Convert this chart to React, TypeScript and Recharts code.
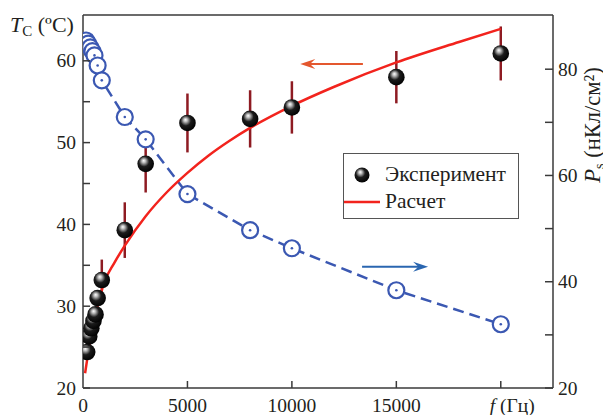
import React from 'react';
import { ComposedChart, Line, Scatter, XAxis, YAxis, ErrorBar, ReferenceLine, Legend, Label } from 'recharts';

const SERIF = '"Liberation Serif", "DejaVu Serif", serif';
const INK = '#231f20';
const FRAME = '#3a3a3a';
const RED = '#f2231d';
const BAR = '#8e1b22';
const BLUE = '#3b58b2';
const ARROW_RED = '#e4572e';
const ARROW_BLUE = '#2a66b0';

// experiment: Tc vs f (left axis)
const expFreq = [200, 300, 400, 500, 600, 700, 900, 2000, 3000, 5000, 8000, 10000, 15000, 20000];
const expTc = [24.4, 26.3, 27.3, 28.2, 29.0, 31.0, 33.2, 39.3, 47.4, 52.4, 52.9, 54.3, 58.0, 60.9];
const expErr = [0, 0, 0, 0, 0, 0, 2.5, 3.4, 3.5, 3.6, 3.5, 3.2, 3.2, 3.3];

// polarization Ps vs f (right axis)
const psFreq = [150, 250, 350, 450, 550, 700, 900, 2000, 3000, 5000, 8000, 10000, 15000, 20000];
const psValues = [85.4, 84.8, 84.1, 83.4, 82.6, 80.7, 77.9, 71.0, 66.8, 56.5, 49.7, 46.3, 38.4, 32.0];

// calculated curve
const calcFreq = [100, 200, 400, 700, 1000, 1500, 2000, 3000, 4000, 5000, 6000, 7000, 8000, 10000, 12000, 15000, 18000, 20000];
const calcTc = [21.8, 23.5, 26.5, 30.0, 32.8, 35.3, 37.4, 41.0, 43.9, 46.3, 48.4, 50.2, 51.8, 54.5, 56.8, 59.8, 62.3, 63.9];

const xTicks = [0, 5000, 10000, 15000, 20000];
const leftTicks = [20, 25, 30, 35, 40, 45, 50, 55, 60];
const rightTicks = [20, 30, 40, 50, 60, 70, 80];

// annotation arrows (tail -> tip)
const redArrow = [{ x: 13400, y: 59.6 }, { x: 10400, y: 59.6 }];
const blueArrow = [{ x: 13360, y: 42.8 }, { x: 16520, y: 42.8 }];

const expData = expFreq.map((f, i) => ({ f, T: expTc[i], err: expErr[i] }));
const psData = psFreq.map((f, i) => ({ f, P: psValues[i] }));
const calcData = calcFreq.map((f, i) => ({ f, T: calcTc[i] }));

const tickFont = { fontFamily: SERIF, fontSize: 19.5, fill: INK };

const LeftTick = (props: any) => {
  const { x, y, payload } = props;
  const major = payload.value % 10 === 0;
  return (
    <g>
      <line x1={x} y1={y} x2={x + 7} y2={y} stroke={FRAME} strokeWidth={1.5} />
      {major && (
        <text x={x - 7} y={y} dy={6.5} textAnchor="end" {...tickFont}>
          {payload.value}
        </text>
      )}
    </g>
  );
};

const RightTick = (props: any) => {
  const { x, y, payload } = props;
  const major = payload.value % 20 === 0;
  return (
    <g>
      <line x1={x - 8} y1={y} x2={x} y2={y} stroke={FRAME} strokeWidth={1.5} />
      {major && (
        <text x={x + 5} y={y} dy={6.5} textAnchor="start" {...tickFont}>
          {payload.value}
        </text>
      )}
    </g>
  );
};

const BottomTick = (props: any) => {
  const { x, y, payload } = props;
  if (payload.value === 20000) {
    return (
      <g>
        <line x1={x} y1={y} x2={x} y2={y - 7} stroke={FRAME} strokeWidth={1.5} />
        <text x={x - 11} y={y + 23.5} textAnchor="start" {...tickFont}>
          <tspan fontStyle="italic">f</tspan> (Гц)
        </text>
      </g>
    );
  }
  return (
    <g>
      {payload.value !== 0 && <line x1={x} y1={y} x2={x} y2={y - 7} stroke={FRAME} strokeWidth={1.5} />}
      <text x={x} y={y + 23.5} textAnchor="middle" {...tickFont}>
        {payload.value}
      </text>
    </g>
  );
};

const LeftTitle = (props: any) => {
  const { viewBox } = props;
  return (
    <text x={viewBox.x + 2} y={viewBox.y + 17} fontFamily={SERIF} fontSize={22} fill={INK}>
      <tspan fontStyle="italic">T</tspan>
      <tspan fontSize={15} dy={4}>C</tspan>
      <tspan dy={-4}> (ºC)</tspan>
    </text>
  );
};

const RightTitle = (props: any) => {
  const { viewBox } = props;
  const cx = viewBox.x + 47;
  const cy = viewBox.y + 110;
  return (
    <text x={cx} y={cy} textAnchor="middle" transform={`rotate(-90, ${cx}, ${cy})`} fontFamily={SERIF} fontSize={22.5} fill={INK}>
      <tspan fontStyle="italic">P</tspan>
      <tspan fontSize={14} dy={4}>s</tspan>
      <tspan dy={-4}> (нКл/см²)</tspan>
    </text>
  );
};

const Sphere = (props: any) => {
  const { cx, cy } = props;
  if (cx == null || cy == null) return null;
  return <circle cx={cx} cy={cy} r={8.3} fill="url(#sphereGrad)" />;
};

const BlueDot = (props: any) => {
  const { cx, cy } = props;
  if (cx == null || cy == null) return null;
  return (
    <g>
      <circle cx={cx} cy={cy} r={8} fill="#fff" stroke={BLUE} strokeWidth={2.2} />
      <circle cx={cx} cy={cy} r={1.3} fill={BLUE} />
    </g>
  );
};

const arrowShape = (color: string) => (props: any) => {
  const { x1, y1, x2, y2 } = props;
  const dir = x2 > x1 ? 1 : -1;
  const hl = 15;
  const hw = 5;
  return (
    <g>
      <line x1={x1} y1={y1} x2={x2 - dir * hl * 0.6} y2={y2} stroke={color} strokeWidth={2} />
      <path
        d={`M${x2},${y2} L${x2 - dir * hl},${y2 - hw} L${x2 - dir * hl * 0.65},${y2} L${x2 - dir * hl},${y2 + hw} Z`}
        fill={color}
      />
    </g>
  );
};

const renderLegend = () => (
  <svg width={176} height={67} style={{ display: 'block' }}>
    <defs>
      <radialGradient id="sphereGradLegend" cx="0.42" cy="0.42" r="0.62" fx="0.38" fy="0.3">
        <stop offset="0%" stopColor="#ffffff" />
        <stop offset="18%" stopColor="#bdbdbd" />
        <stop offset="50%" stopColor="#1c1c1c" />
        <stop offset="100%" stopColor="#000" />
      </radialGradient>
    </defs>
    <rect x={0.5} y={0.5} width={175} height={65} fill="#fff" stroke="#555" strokeWidth={1} />
    <circle cx={19} cy={22} r={7.5} fill="url(#sphereGradLegend)" />
    <text x={42} y={28} fontFamily={SERIF} fontSize={21.5} fill={INK}>Эксперимент</text>
    <line x1={1} y1={49} x2={37} y2={49} stroke={RED} strokeWidth={2.5} />
    <text x={42} y={55} fontFamily={SERIF} fontSize={21.5} fill={INK}>Расчет</text>
  </svg>
);

export default function App() {
  return (
    <ComposedChart width={603} height={407} margin={{ top: 7, right: 0, bottom: 0, left: 0 }}>
      <defs>
        <radialGradient id="sphereGrad" cx="0.42" cy="0.42" r="0.62" fx="0.38" fy="0.3">
          <stop offset="0%" stopColor="#ffffff" />
          <stop offset="18%" stopColor="#bdbdbd" />
          <stop offset="50%" stopColor="#1c1c1c" />
          <stop offset="100%" stopColor="#000" />
        </radialGradient>
      </defs>
      <XAxis
        type="number"
        dataKey="f"
        domain={[0, 22500]}
        ticks={xTicks}
        interval={0}
        height={27}
        tickSize={0}
        tickMargin={0}
        tickLine={false}
        axisLine={{ stroke: FRAME, strokeWidth: 1.5 }}
        tick={<BottomTick />}
        allowDataOverflow
      />
      <YAxis
        yAxisId="left"
        type="number"
        domain={[20, 65.6]}
        ticks={leftTicks}
        interval={0}
        width={75}
        tickSize={0}
        tickMargin={0}
        tickLine={false}
        axisLine={{ stroke: FRAME, strokeWidth: 1.5 }}
        tick={<LeftTick />}
        allowDataOverflow
      >
        <Label content={<LeftTitle />} />
      </YAxis>
      <YAxis
        yAxisId="right"
        orientation="right"
        type="number"
        domain={[20, 90.2]}
        ticks={rightTicks}
        interval={0}
        width={58}
        tickSize={0}
        tickMargin={0}
        tickLine={false}
        axisLine={{ stroke: FRAME, strokeWidth: 1.5 }}
        tick={<RightTick />}
        allowDataOverflow
      >
        <Label content={<RightTitle />} />
      </YAxis>
      <ReferenceLine yAxisId="left" y={65.6} stroke={FRAME} strokeWidth={1.5} />
      <ReferenceLine yAxisId="left" segment={redArrow} shape={arrowShape(ARROW_RED)} />
      <ReferenceLine yAxisId="right" segment={blueArrow} shape={arrowShape(ARROW_BLUE)} />
      <Line
        data={psData}
        yAxisId="right"
        dataKey="P"
        type="linear"
        stroke={BLUE}
        strokeWidth={2.5}
        strokeDasharray="11 6"
        dot={<BlueDot />}
        isAnimationActive={false}
      />
      <Scatter data={expData} yAxisId="left" dataKey="T" shape={<Sphere />} isAnimationActive={false}>
        <ErrorBar dataKey="err" direction="y" width={0} stroke={BAR} strokeWidth={2.5} />
      </Scatter>
      <Line
        data={calcData}
        yAxisId="left"
        dataKey="T"
        type="monotone"
        stroke={RED}
        strokeWidth={2.5}
        dot={false}
        isAnimationActive={false}
      />
      <Legend
        content={renderLegend}
        align="center"
        verticalAlign="middle"
        layout="horizontal"
        wrapperStyle={{ left: 335, top: 145, width: 'auto' }}
      />
    </ComposedChart>
  );
}
